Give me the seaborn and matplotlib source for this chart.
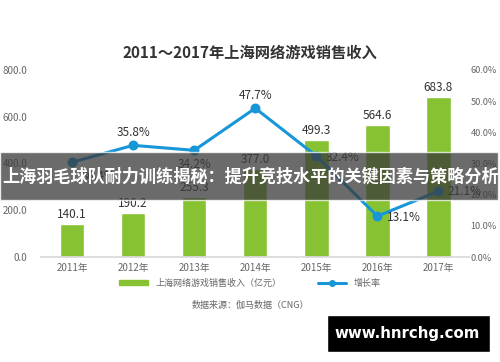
import matplotlib

matplotlib.use("Agg")
import matplotlib.pyplot as plt
import numpy as np
import pandas as pd
import seaborn as sns
from matplotlib.patches import Rectangle
from matplotlib.lines import Line2D

years = ["2011年", "2012年", "2013年", "2014年", "2015年", "2016年", "2017年"]
revenue = [140.1, 190.2, 255.3, 377.0, 499.3, 564.6, 683.8]
growth = [30.4, 35.8, 34.2, 47.7, 32.4, 13.1, 21.1]
left_ticks = [0, 200, 400, 600, 800]
right_ticks = [0, 10, 20, 30, 40, 50, 60]

GREEN = "#86c232"
BLUE = "#1796d8"
GREY = "#666666"

sns.set_theme(style="white")
plt.rcParams["font.family"] = ["Noto Sans CJK SC", "DejaVu Sans"]

df = pd.DataFrame({"year": years, "revenue": revenue, "growth": growth})

fig = plt.figure(figsize=(5.0, 3.62), dpi=100)
ax = fig.add_axes([0.083, 0.29, 0.855, 0.517])
sns.barplot(data=df, x="year", y="revenue", color=GREEN, width=0.4, saturation=1, ax=ax)
ax.set_ylim(0, 800)
ax.set_xlim(-0.5, 6.5)
ax.set_yticks(left_ticks)
ax.set_yticklabels([f"{v:.1f}" for v in left_ticks], fontsize=7, color=GREY)
ax.tick_params(axis="y", pad=10, length=0)
ax.tick_params(axis="x", labelsize=7, labelcolor=GREY, length=0, pad=4)
ax.set_xlabel("")
ax.set_ylabel("")
for s in ["top", "left", "right"]:
    ax.spines[s].set_visible(False)
ax.spines["bottom"].set_color("#d9d9d9")
for i, v in enumerate(revenue):
    ax.text(i, v + 12, f"{v:.1f}", ha="center", va="bottom", fontsize=8.5, color="#333333")

ax2 = ax.twinx()
sns.pointplot(data=df, x="year", y="growth", color=BLUE, markers="o",
              linewidth=2.2, markersize=5.5, ax=ax2)
ax2.set_ylim(0, 60)
ax2.set_yticks(right_ticks)
ax2.set_yticklabels([f"{v:.1f}%" for v in right_ticks], fontsize=6.6, color=GREY)
ax2.tick_params(axis="y", pad=1, length=0)
ax2.set_xlabel("")
ax2.set_ylabel("")
for s in ax2.spines.values():
    s.set_visible(False)
offsets = [(0.15, -2.5, "left", "top"), (0, 2.0, "center", "bottom"), (0, -2.5, "center", "top"),
           (0, 2.0, "center", "bottom"), (0.15, -0.5, "left", "center"), (0.15, -0.3, "left", "center"),
           (0.15, 0, "left", "center")]
for i, (g, (dx, dy, ha, va)) in enumerate(zip(growth, offsets)):
    ax2.text(i + dx, g + dy, f"{g:.1f}%", ha=ha, va=va, fontsize=8.5, color="#333333")

fig.text(0.5, 0.855, "2011～2017年上海网络游戏销售收入", ha="center", va="center",
         fontsize=11, fontweight="bold", color="#333333")

# legend
handles = [Rectangle((0, 0), 1, 1, color=GREEN),
           Line2D([0], [0], color=BLUE, lw=2.2, marker="o", markersize=4)]
fig.legend(handles, ["上海网络游戏销售收入（亿元）", "增长率"], loc="center", ncol=2,
           bbox_to_anchor=(0.5, 0.218), frameon=False, fontsize=6.5, labelcolor=GREY,
           handlelength=3.2, columnspacing=4, handleheight=0.6)
fig.text(0.5, 0.157, "数据来源：伽马数据（CNG）", ha="center", va="center", fontsize=6.5, color=GREY)

# overlay banner
fig.patches.append(Rectangle((0, 0.447), 0.995, 0.133, transform=fig.transFigure,
                             facecolor="#3a3a3a", alpha=0.75, zorder=5))
fig.text(0.004, 0.513, "上海羽毛球队耐力训练揭秘：提升竞技水平的关键因素与策略分析", ha="left", va="center",
         fontsize=12.3, fontweight="bold", color="white", zorder=6)

# watermark
fig.patches.append(Rectangle((0.654, 0.028), 0.326, 0.103, transform=fig.transFigure,
                             facecolor="black", zorder=5))
fig.text(0.815, 0.08, "www.hnrchg.com", ha="center", va="center", fontsize=10.8,
         fontweight="bold", color="white", zorder=6, family=["DejaVu Sans"])

fig.savefig("out.png", dpi=100, facecolor="white")
